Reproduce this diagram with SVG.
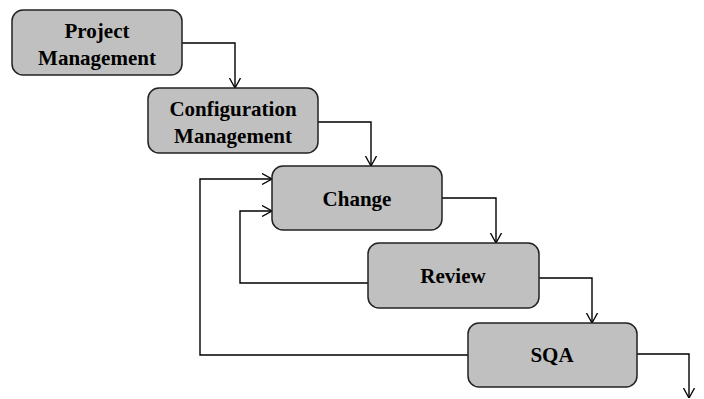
<svg xmlns="http://www.w3.org/2000/svg" width="704" height="399" viewBox="0 0 704 399">
<defs>
<marker id="arr" viewBox="0 0 10 12" refX="10" refY="6" markerWidth="10" markerHeight="12" markerUnits="userSpaceOnUse" orient="auto">
<path d="M0,0.5 L10,6 L0,11.5" fill="none" stroke="#000" stroke-width="1.3"/>
</marker>
<style>
.box{fill:#c0c0c0;stroke:#222;stroke-width:1.5}
.lbl{font-family:"Liberation Serif","Times New Roman",serif;font-weight:bold;font-size:21px;fill:#000;text-anchor:middle}
.con{fill:none;stroke:#000;stroke-width:1.4;marker-end:url(#arr)}
</style>
</defs>
<rect width="704" height="399" fill="#fff"/>
<g id="connectors">
<path class="con" d="M182,43 H235 V88"/>
<path class="con" d="M318,122 H371 V166"/>
<path class="con" d="M442,198 H496 V243"/>
<path class="con" d="M539,278 H592 V323"/>
<path class="con" d="M637,354 H689 V398"/>
<path class="con" d="M368,283 H240 V211 H272"/>
<path class="con" d="M468,355 H200 V179 H272"/>
</g>
<g id="project-management">
<rect class="box" x="12" y="10" width="170" height="65" rx="11"/>
<text class="lbl" x="97" y="38">Project</text>
<text class="lbl" x="97" y="65">Management</text>
</g>
<g id="configuration-management">
<rect class="box" x="148" y="88" width="170" height="65" rx="11"/>
<text class="lbl" x="233" y="116">Configuration</text>
<text class="lbl" x="233" y="143">Management</text>
</g>
<g id="change">
<rect class="box" x="272" y="166" width="170" height="64" rx="11"/>
<text class="lbl" x="357" y="206">Change</text>
</g>
<g id="review">
<rect class="box" x="368" y="243" width="171" height="65" rx="11"/>
<text class="lbl" x="453" y="283">Review</text>
</g>
<g id="sqa">
<rect class="box" x="468" y="323" width="169" height="64" rx="11"/>
<text class="lbl" x="552" y="362">SQA</text>
</g>
</svg>
